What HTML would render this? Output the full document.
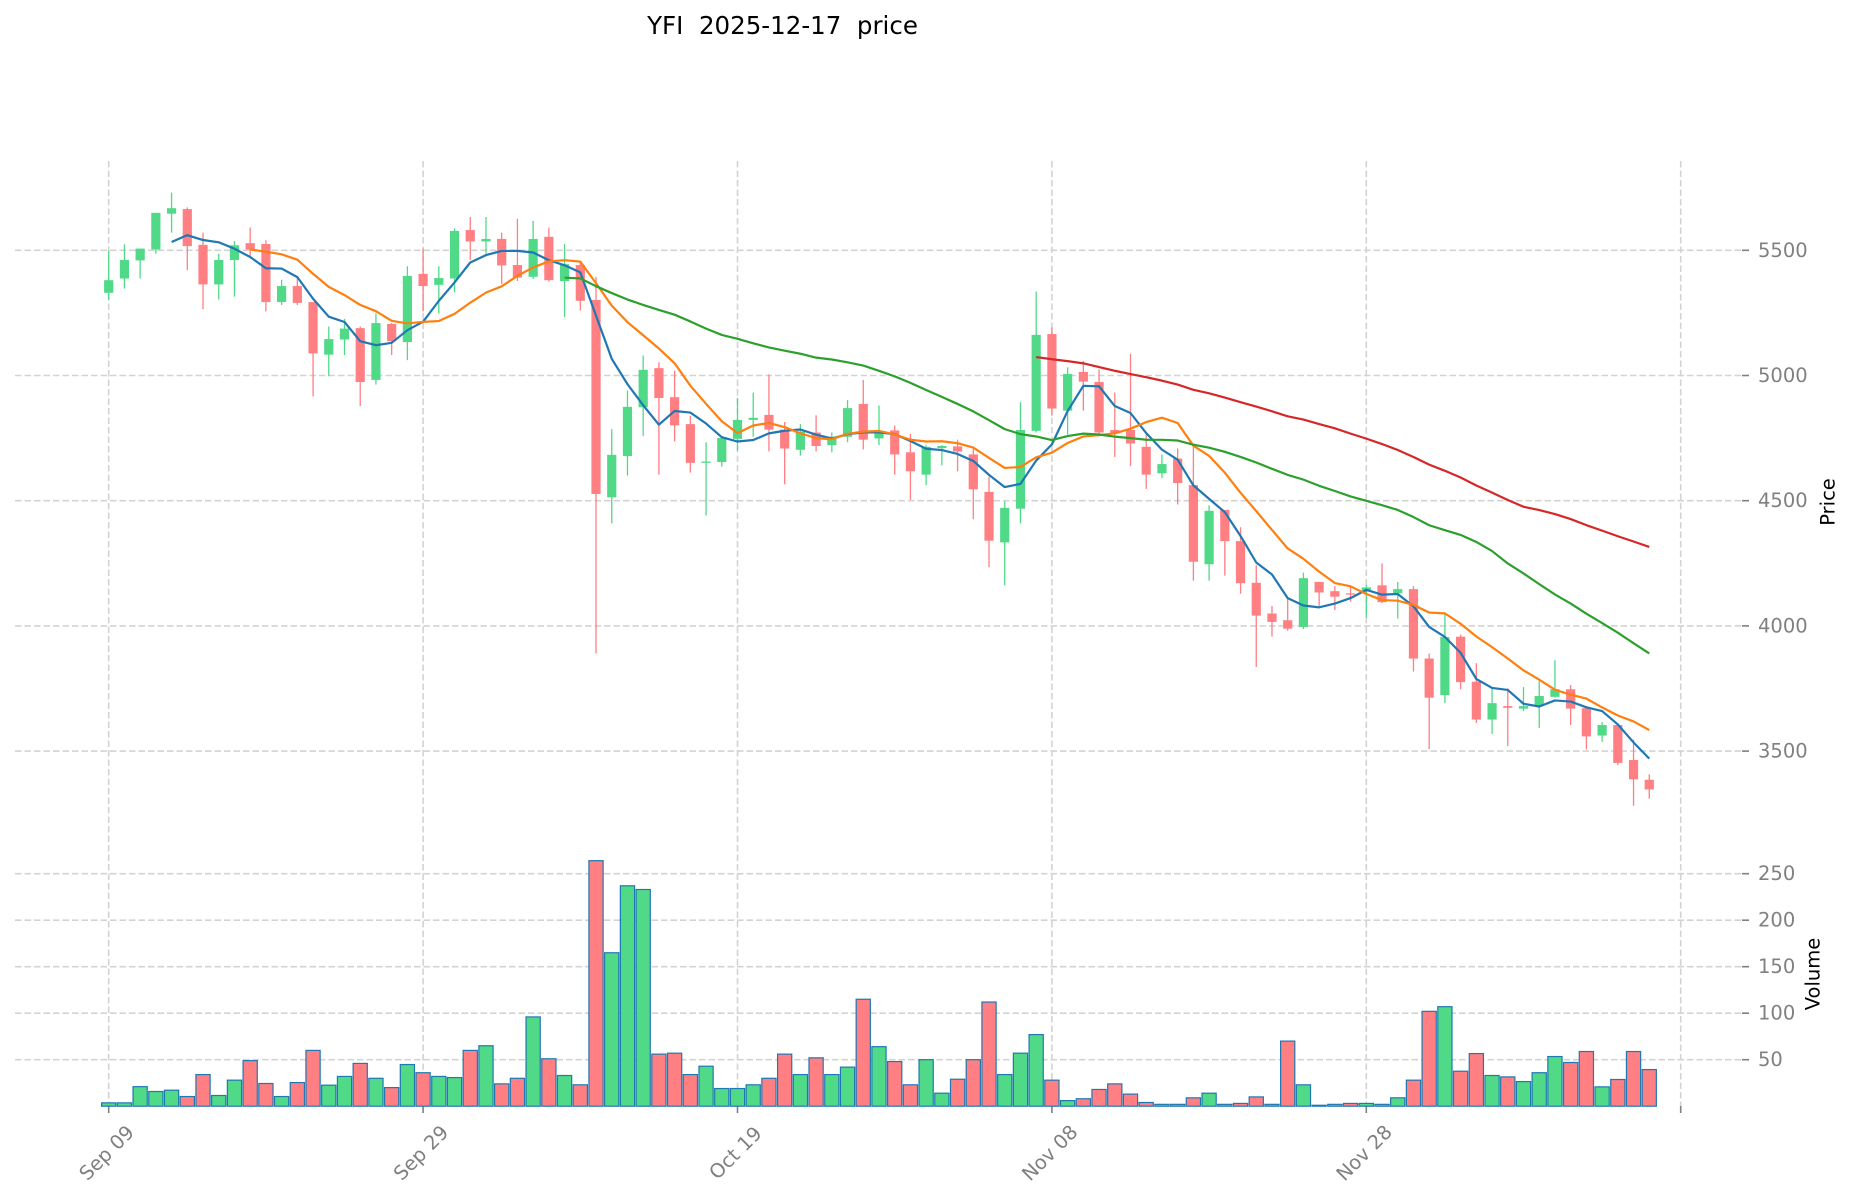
<!DOCTYPE html>
<html>
<head>
<meta charset="utf-8">
<style>
html,body{margin:0;padding:0;background:#fff;}
svg{display:block;}
text{font-family:"DejaVu Sans","Liberation Sans",sans-serif;}
</style>
</head>
<body>
<svg xmlns="http://www.w3.org/2000/svg" width="1853" height="1202" viewBox="0 0 1853 1202">
<rect width="1853" height="1202" fill="#fff"/>
<g stroke="#d3d3d3" stroke-width="1.6" stroke-dasharray="6.5 3" fill="none">
  <line x1="15" y1="250.3" x2="1742" y2="250.3"/>
  <line x1="15" y1="375.5" x2="1742" y2="375.5"/>
  <line x1="15" y1="500.7" x2="1742" y2="500.7"/>
  <line x1="15" y1="625.9" x2="1742" y2="625.9"/>
  <line x1="15" y1="751.1" x2="1742" y2="751.1"/>
  <line x1="15" y1="873.7" x2="1742" y2="873.7"/>
  <line x1="15" y1="920.2" x2="1742" y2="920.2"/>
  <line x1="15" y1="966.7" x2="1742" y2="966.7"/>
  <line x1="15" y1="1013.2" x2="1742" y2="1013.2"/>
  <line x1="15" y1="1059.7" x2="1742" y2="1059.7"/>
  <line x1="108.7" y1="161" x2="108.7" y2="1106"/>
  <line x1="423.1" y1="161" x2="423.1" y2="1106"/>
  <line x1="737.5" y1="161" x2="737.5" y2="1106"/>
  <line x1="1051.9" y1="161" x2="1051.9" y2="1106"/>
  <line x1="1366.3" y1="161" x2="1366.3" y2="1106"/>
  <line x1="1680.7" y1="161" x2="1680.7" y2="1106"/>
</g>
<g stroke="#808080" stroke-width="1.6">
  <line x1="1742" y1="250.3" x2="1749" y2="250.3"/>
  <line x1="1742" y1="375.5" x2="1749" y2="375.5"/>
  <line x1="1742" y1="500.7" x2="1749" y2="500.7"/>
  <line x1="1742" y1="625.9" x2="1749" y2="625.9"/>
  <line x1="1742" y1="751.1" x2="1749" y2="751.1"/>
  <line x1="1742" y1="873.7" x2="1749" y2="873.7"/>
  <line x1="1742" y1="920.2" x2="1749" y2="920.2"/>
  <line x1="1742" y1="966.7" x2="1749" y2="966.7"/>
  <line x1="1742" y1="1013.2" x2="1749" y2="1013.2"/>
  <line x1="1742" y1="1059.7" x2="1749" y2="1059.7"/>
  <line x1="108.7" y1="1106" x2="108.7" y2="1113"/>
  <line x1="423.1" y1="1106" x2="423.1" y2="1113"/>
  <line x1="737.5" y1="1106" x2="737.5" y2="1113"/>
  <line x1="1051.9" y1="1106" x2="1051.9" y2="1113"/>
  <line x1="1366.3" y1="1106" x2="1366.3" y2="1113"/>
  <line x1="1680.7" y1="1106" x2="1680.7" y2="1113"/>
</g>
<g id="candles"></g>
<g id="vol"></g>
<g id="ma" fill="none" stroke-width="2.2" stroke-linejoin="round" stroke-linecap="butt"></g>

<g fill="#808080" font-size="19.5" dominant-baseline="central">
  <text x="1758" y="250.3">5500</text>
  <text x="1758" y="375.5">5000</text>
  <text x="1758" y="500.7">4500</text>
  <text x="1758" y="625.9">4000</text>
  <text x="1758" y="751.1">3500</text>
  <text x="1758" y="873.7">250</text>
  <text x="1758" y="920.2">200</text>
  <text x="1758" y="966.7">150</text>
  <text x="1758" y="1013.2">100</text>
  <text x="1758" y="1059.7">50</text>
</g>
<g fill="#808080" font-size="19.5" text-anchor="middle" dominant-baseline="central">
  <text transform="translate(106.7,1153) rotate(-45)">Sep 09</text>
  <text transform="translate(421.1,1153) rotate(-45)">Sep 29</text>
  <text transform="translate(735.5,1153) rotate(-45)">Oct 19</text>
  <text transform="translate(1049.9,1153) rotate(-45)">Nov 08</text>
  <text transform="translate(1364.3,1153) rotate(-45)">Nov 28</text>
</g>
<text x="782.5" y="34" font-size="24.5" text-anchor="middle" fill="#000" xml:space="preserve" style="white-space:pre">YFI  2025-12-17  price</text>
<text transform="translate(1828,502) rotate(-90)" font-size="19.5" text-anchor="middle" dominant-baseline="central" fill="#000">Price</text>
<text transform="translate(1813,974) rotate(-90)" font-size="19.5" text-anchor="middle" dominant-baseline="central" fill="#000">Volume</text>
</svg>
<script>
(function(){
var D=[[238,268,168,285,1],[190,234,153,258,1],[163,191,163,234,1],[78,165,78,175,1],[67,80,30,125,1],
[69,157,65,214,0],[154,248,125,307,0],[190,248,175,284,1],[155,190,145,277,1],[150,165,113,180,0],
[152,290,143,312,0],[252,290,237,297,1],[252,292,232,297,0],[290,412,290,514,0],[378,415,348,466,1],
[353,379,330,416,1],[352,480,348,537,0],[340,475,317,486,1],[342,383,340,416,0],[228,385,205,428,1],
[223,252,163,312,0],[233,249,205,317,1],[121,234,115,267,1],[119,146,88,190,0],[140,146,88,175,1],
[140,203,125,247,0],[202,232,92,240,0],[140,230,97,235,1],[135,238,113,241,0],[200,240,152,326,1],
[202,287,196,310,0],[285,746,230,1125,0],[653,754,592,816,1],[539,656,500,702,1],[451,540,417,608,1],
[447,518,433,700,0],[516,583,453,621,0],[580,672,560,695,0],[669,671,623,797,1],[613,670,610,681,1],
[570,615,518,643,1],[565,570,505,610,1],[558,593,462,645,0],[593,638,575,723,0],[598,641,580,655,1],
[600,632,559,645,0],[610,630,600,647,1],[542,610,523,623,1],[532,617,475,640,0],[598,614,536,630,1],
[595,652,583,700,0],[647,692,603,760,0],[634,700,630,725,1],[632,637,630,678,1],[633,645,617,692,0],
[652,735,635,806,0],[741,857,705,920,0],[779,861,763,963,1],[594,781,528,816,1],[368,596,265,600,1],
[366,543,350,560,0],[461,548,445,605,1],[456,479,430,548,0],[480,600,450,608,0],[594,602,505,658,0],
[594,626,413,680,0],[634,700,605,734,0],[675,697,652,708,1],[662,720,638,771,0],[725,907,628,952,0],
[786,913,773,952,1],[784,858,784,940,0],[858,958,825,983,0],[957,1035,915,1157,0],[1030,1050,1012,1085,0],
[1046,1066,995,1071,0],[946,1062,933,1067,1],[955,980,955,1012,0],[977,990,965,1022,0],[982,985,965,1002,0],
[968,975,962,1040,1],[963,1003,911,1005,0],[972,982,955,1042,1],[972,1137,965,1168,0],[1137,1230,1125,1352,0],
[1086,1224,1028,1243,1],[1085,1193,1080,1210,0],[1192,1282,1148,1290,0],[1243,1282,1207,1316,1],[1250,1254,1208,1345,0],
[1250,1256,1205,1262,1],[1226,1250,1190,1302,1],[1210,1228,1141,1230,1],[1210,1256,1200,1295,0],[1255,1322,1250,1353,0],
[1295,1320,1288,1335,1],[1295,1385,1293,1390,0],[1378,1424,1330,1487,0],[1425,1448,1412,1470,0]];
var V=[3.6,3.6,21,15.8,17.2,10.4,34,11.5,28,49,24.4,10.4,25.4,60,22.6,32,46,30,20,44.8,36,32,30.8,
60,65,24,30,96,51,33,23,264,165,237,233,56,57,34,43,19,19,23,30,56,34,52,34,42,115,64,48,23,50,14,29,50,112,34,57,77,
28,6,8,18,24,13,4,2,2,9,14,2,3,10,2,70,23,1,2,3,3,2,9,28,102,107,37.6,56.6,33,31.5,26.5,36,53.4,47,58.8,20.8,28.7,58.8,39.4];
function X(i){return 108.7+15.72*i;}
function Y(z){return 180+z*0.42088;}
var G='#50da88',R='#ff7f83';
var cs='',vs='';
for(var i=0;i<D.length;i++){
  var d=D[i],x=X(i),c=d[4]?G:R;
  var wt=Y(d[2]),wb=Y(d[3]);
  cs+='<rect x="'+(x-0.65).toFixed(2)+'" y="'+wt.toFixed(2)+'" width="1.3" height="'+(wb-wt).toFixed(2)+'" fill="'+c+'"/>';
  var bt=Y(d[0]),bb=Y(d[1]);var h=Math.max(bb-bt,1.3);
  cs+='<rect x="'+(x-4.6).toFixed(2)+'" y="'+bt.toFixed(2)+'" width="9.2" height="'+h.toFixed(2)+'" fill="'+c+'"/>';
  var vy=1106.2-V[i]*0.93;
  vs+='<rect x="'+(x-7.1).toFixed(2)+'" y="'+vy.toFixed(2)+'" width="14.2" height="'+(1106.2-vy).toFixed(2)+'" fill="'+c+'" stroke="#1f77b4" stroke-width="1.2"/>';
}
document.getElementById('candles').innerHTML=cs;
document.getElementById('vol').innerHTML=vs;
var cl=D.map(function(d){return d[4]?d[0]:d[1];});
function ma(n,col){
  var pts=[];
  for(var i=n-1;i<cl.length;i++){
    var s=0;for(var k=i-n+1;k<=i;k++)s+=cl[k];
    pts.push(X(i).toFixed(2)+','+Y(s/n).toFixed(2));
  }
  return '<polyline points="'+pts.join(' ')+'" stroke="'+col+'"/>';
}
document.getElementById('ma').innerHTML=ma(5,'#1f77b4')+ma(10,'#ff7f0e')+ma(30,'#2ca02c')+ma(60,'#d62728');
})();
</script>
</body>
</html>
